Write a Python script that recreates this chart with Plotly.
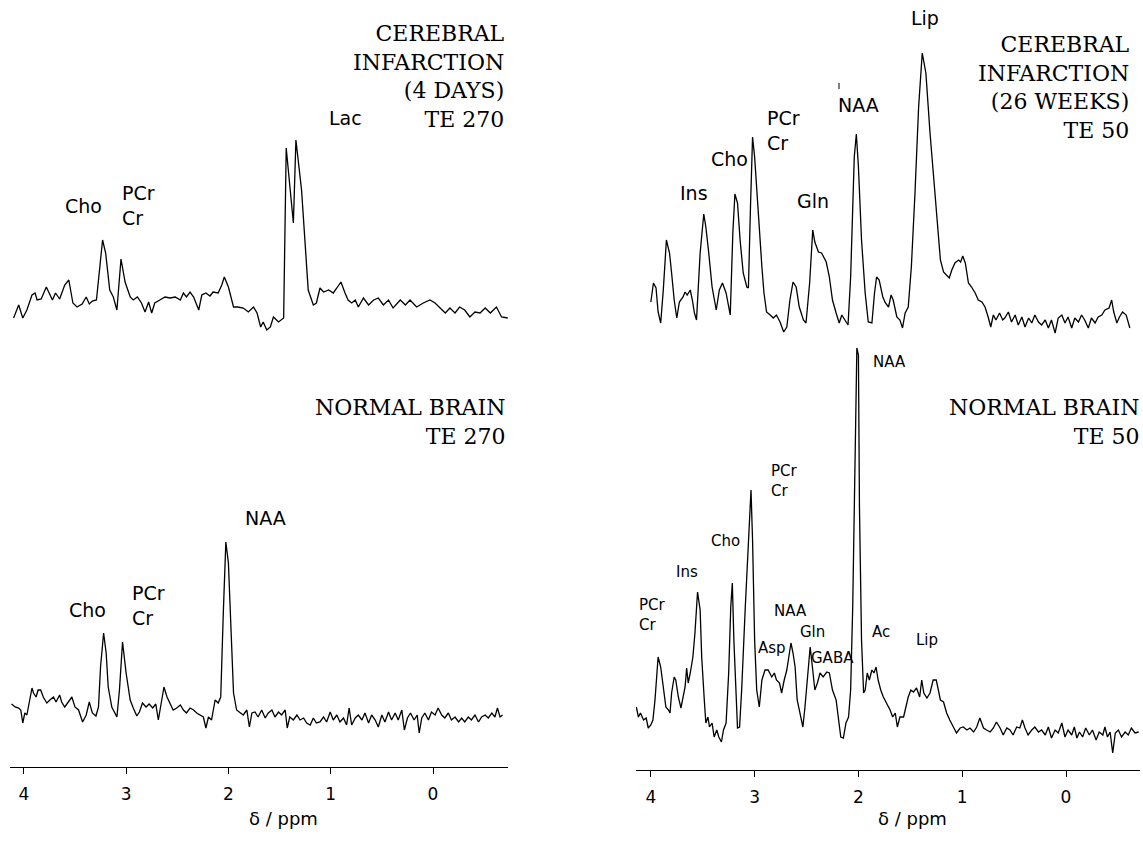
import plotly.graph_objects as go

# ---------------- spectra (chemical shift in ppm, intensity in arbitrary units) ----------------

# Cerebral infarction, 4 days, TE 270
ppm_inf4d = [4.10, 4.05, 4.01, 3.97, 3.92, 3.89, 3.87, 3.83, 3.78, 3.74, 3.72, 3.69, 3.65, 3.60, 3.56,
             3.52, 3.48, 3.43, 3.39, 3.36, 3.33, 3.29, 3.255, 3.23, 3.20, 3.16, 3.125, 3.09, 3.05, 3.01,
             2.96, 2.93, 2.89, 2.85, 2.815, 2.78, 2.75, 2.72, 2.67, 2.62, 2.57, 2.52, 2.47, 2.44, 2.41,
             2.375, 2.34, 2.29, 2.26, 2.22, 2.18, 2.15, 2.10, 2.065, 2.04, 2.00, 1.95, 1.91, 1.855, 1.805,
             1.755, 1.72, 1.685, 1.66, 1.625, 1.59, 1.56, 1.51, 1.46, 1.435, 1.365, 1.34, 1.285, 1.25, 1.22,
             1.17, 1.14, 1.105, 1.07, 1.02, 0.975, 0.94, 0.90, 0.86, 0.83, 0.795, 0.76, 0.73, 0.68, 0.63,
             0.58, 0.535, 0.485, 0.435, 0.39, 0.32, 0.27, 0.225, 0.16, 0.095, 0.03, -0.02, -0.07, -0.12,
             -0.165, -0.215, -0.26, -0.31, -0.36, -0.41, -0.46, -0.51, -0.56, -0.62, -0.67, -0.73]
int_inf4d = [-18, -5, -18, -10, 5, 7, 0, 1, 13, 5, 0, 7, 1, 15, 20,
             -3, -7, -4, 3, -4, -1, 0, 33, 60, 47, 10, 3, -10, 41, 18,
             3, 0, 3, -3, -12, -2, -13, -3, 0, 3, 2, 3, 0, 7, 3,
             8, 3, -10, 5, 7, 4, 8, 7, 15, 23, 13, -7, -7, -8, -12,
             -7, -13, -27, -22, -30, -27, -17, -22, -18, 152, 77, 160, 110, 53, 10,
             -5, -3, 12, 8, 10, 7, 12, 18, 7, 0, -3, 0, -7, 2, -5,
             0, 2, -5, 0, -8, 0, -5, 0, -7, -3, 0, -3, -8, -13,
             -8, -13, -7, -10, -17, -12, -13, -8, -13, -7, -17, -18]

# Cerebral infarction, 26 weeks, TE 50
ppm_inf26w = [4.00, 3.975, 3.95, 3.93, 3.905, 3.88, 3.85, 3.82, 3.80, 3.775,
              3.75, 3.725, 3.69, 3.67, 3.65, 3.62, 3.60, 3.58, 3.56, 3.525,
              3.49, 3.47, 3.445, 3.41, 3.37, 3.34, 3.31, 3.275, 3.235, 3.21,
              3.19, 3.165, 3.14, 3.11, 3.075, 3.06, 3.04, 3.02, 3.00, 2.965,
              2.93, 2.91, 2.885, 2.85, 2.82, 2.79, 2.755, 2.72, 2.69, 2.66,
              2.63, 2.60, 2.57, 2.53, 2.505, 2.47, 2.44, 2.42, 2.385, 2.355,
              2.31, 2.28, 2.25, 2.215, 2.185, 2.16, 2.13, 2.10, 2.075, 2.04,
              2.02, 2.00, 1.97, 1.935, 1.905, 1.87, 1.845, 1.825, 1.80, 1.765,
              1.74, 1.71, 1.685, 1.665, 1.63, 1.60, 1.575, 1.55, 1.52, 1.49,
              1.455, 1.42, 1.385, 1.35, 1.31, 1.27, 1.24, 1.21, 1.18, 1.15,
              1.125, 1.10, 1.07, 1.035, 1.015, 0.995, 0.97, 0.94, 0.91, 0.875,
              0.845, 0.81, 0.78, 0.75, 0.725, 0.70, 0.675, 0.64, 0.61, 0.59,
              0.555, 0.525, 0.49, 0.46, 0.425, 0.395, 0.36, 0.33, 0.30, 0.265,
              0.235, 0.20, 0.17, 0.14, 0.105, 0.075, 0.04, 0.01, -0.02, -0.055,
              -0.085, -0.12, -0.15, -0.18, -0.215, -0.245, -0.28, -0.31, -0.345, -0.375,
              -0.415, -0.44, -0.46, -0.49, -0.515, -0.545, -0.58, -0.615]
int_inf26w = [18, 37, 32, 8, -3, 30, 80, 67, 47, 20,
              2, 18, 23, 28, 25, 30, 20, 7, 0, 67,
              106, 93, 70, 33, 10, 30, 37, 27, 5, 87,
              126, 117, 80, 47, 33, 32, 113, 183, 163, 103,
              53, 27, 8, 5, 2, 5, -2, -12, -7, 20,
              38, 33, 13, 0, -3, 37, 90, 78, 68, 67,
              58, 43, 20, 7, -3, 5, 0, -5, 43, 163,
              186, 153, 80, 27, -2, -3, 27, 43, 40, 23,
              17, 13, 25, 20, 3, 0, -8, 7, 13, 53,
              127, 213, 267, 247, 187, 133, 97, 60, 48, 45,
              42, 50, 57, 60, 58, 64, 57, 37, 33, 27,
              20, 18, 13, 3, -7, 5, 0, 7, 0, 2,
              8, -2, 5, -5, 3, -7, 2, -3, 5, -2,
              -5, 0, -8, 0, -13, 2, 5, -3, 3, -8,
              2, -2, 5, 0, -8, 2, -3, 3, 5, 10,
              12, 20, 8, -3, 3, 8, 5, -8]

# Normal brain, TE 270
ppm_norm270 = [4.12, 4.085, 4.05, 4.03, 4.01, 3.99, 3.97, 3.945, 3.92, 3.905,
               3.88, 3.86, 3.835, 3.81, 3.775, 3.745, 3.71, 3.685, 3.65, 3.63,
               3.60, 3.565, 3.53, 3.50, 3.465, 3.425, 3.39, 3.36, 3.33, 3.295,
               3.27, 3.25, 3.22, 3.195, 3.175, 3.14, 3.09, 3.065, 3.035, 3.00,
               2.96, 2.93, 2.895, 2.87, 2.84, 2.805, 2.775, 2.74, 2.71, 2.685,
               2.65, 2.63, 2.60, 2.57, 2.54, 2.505, 2.47, 2.44, 2.41, 2.375,
               2.34, 2.31, 2.28, 2.245, 2.22, 2.195, 2.165, 2.13, 2.10, 2.075,
               2.05, 2.025, 2.00, 1.975, 1.95, 1.92, 1.885, 1.855, 1.82, 1.795,
               1.77, 1.74, 1.71, 1.675, 1.64, 1.61, 1.575, 1.545, 1.51, 1.48,
               1.445, 1.425, 1.40, 1.365, 1.33, 1.30, 1.265, 1.235, 1.20, 1.17,
               1.14, 1.105, 1.07, 1.04, 1.005, 0.975, 0.94, 0.91, 0.875, 0.845,
               0.82, 0.795, 0.76, 0.73, 0.695, 0.665, 0.63, 0.60, 0.565, 0.535,
               0.50, 0.47, 0.435, 0.405, 0.37, 0.34, 0.305, 0.28, 0.25, 0.22,
               0.185, 0.155, 0.135, 0.11, 0.08, 0.045, 0.015, -0.02, -0.05, -0.085,
               -0.115, -0.15, -0.18, -0.215, -0.25, -0.28, -0.31, -0.345, -0.375, -0.41,
               -0.445, -0.475, -0.51, -0.54, -0.575, -0.605, -0.63, -0.655, -0.68]
int_norm270 = [16, 13, 12, 10, -3, 7, 5, 20, 32, 27,
               23, 30, 30, 23, 17, 20, 23, 18, 25, 18,
               13, 18, 23, 13, 10, -2, 5, 18, 7, 4,
               13, 53, 87, 67, 33, 13, 3, 30, 78, 47,
               20, 12, 4, 8, 17, 13, 16, 12, 16, 0,
               23, 33, 23, 17, 10, 12, 15, 10, 7, 12,
               10, 7, 5, 3, -8, 3, 0, 20, 17, 23,
               107, 178, 157, 87, 27, 10, 7, 5, 10, -7,
               7, 8, 3, 10, 2, 7, 10, 3, 8, 5,
               10, -8, 3, 0, 5, 0, 2, -3, -5, 2,
               -3, -2, 3, -2, 8, 0, 5, -2, 2, -5,
               12, -5, 2, 5, 0, 7, -3, 5, 0, -7,
               5, -2, 8, 0, 7, 0, 10, -10, 2, 7,
               0, 5, -13, 2, 7, 0, 8, 5, 12, 5,
               2, 7, 0, 3, -2, 2, -2, 3, 0, 5,
               -2, 3, 5, 2, 7, 3, 12, 3, 5]

# Normal brain, TE 50
ppm_norm50 = [4.14, 4.12, 4.10, 4.07, 4.045, 4.025, 4.00, 3.98, 3.96, 3.945,
              3.93, 3.905, 3.88, 3.855, 3.83, 3.815, 3.80, 3.775, 3.76, 3.735,
              3.71, 3.69, 3.67, 3.655, 3.64, 3.62, 3.595, 3.575, 3.55, 3.525,
              3.51, 3.485, 3.47, 3.45, 3.435, 3.41, 3.39, 3.365, 3.345, 3.32,
              3.30, 3.275, 3.25, 3.23, 3.215, 3.20, 3.18, 3.165, 3.145, 3.125,
              3.09, 3.06, 3.035, 3.02, 3.00, 2.98, 2.955, 2.93, 2.90, 2.87,
              2.835, 2.81, 2.79, 2.76, 2.74, 2.715, 2.69, 2.675, 2.65, 2.63,
              2.61, 2.59, 2.56, 2.535, 2.515, 2.49, 2.465, 2.44, 2.42, 2.395,
              2.37, 2.34, 2.305, 2.28, 2.25, 2.215, 2.19, 2.17, 2.145, 2.12,
              2.095, 2.075, 2.055, 2.03, 2.015, 2.00, 1.99, 1.97, 1.95, 1.935,
              1.915, 1.895, 1.87, 1.85, 1.83, 1.81, 1.785, 1.76, 1.73, 1.695,
              1.67, 1.645, 1.625, 1.60, 1.565, 1.54, 1.52, 1.495, 1.47, 1.44,
              1.41, 1.39, 1.37, 1.34, 1.31, 1.28, 1.25, 1.23, 1.21, 1.18,
              1.15, 1.12, 1.085, 1.055, 1.02, 0.99, 0.955, 0.925, 0.89, 0.86,
              0.83, 0.795, 0.765, 0.73, 0.70, 0.67, 0.635, 0.605, 0.57, 0.54,
              0.51, 0.475, 0.445, 0.42, 0.395, 0.365, 0.33, 0.30, 0.265, 0.235,
              0.20, 0.17, 0.14, 0.105, 0.075, 0.04, 0.01, -0.02, -0.055, -0.08,
              -0.105, -0.13, -0.16, -0.19, -0.225, -0.255, -0.29, -0.32, -0.355, -0.375,
              -0.40, -0.425, -0.45, -0.475, -0.505, -0.535, -0.57, -0.60, -0.63, -0.665,
              -0.70]
int_norm50 = [33, 23, 27, 20, 22, 12, 15, 20, 40, 67,
              83, 73, 50, 33, 30, 27, 47, 63, 60, 43,
              32, 43, 53, 72, 57, 67, 83, 107, 148, 130,
              83, 40, 17, 23, 13, 17, 3, 10, 3, -2,
              10, 17, 67, 133, 157, 100, 40, 12, 13, 50,
              133, 200, 250, 200, 100, 50, 33, 60, 70, 70,
              63, 67, 60, 57, 47, 60, 70, 80, 97, 87,
              73, 40, 23, 13, 33, 67, 93, 70, 50, 57,
              67, 63, 68, 67, 50, 40, 20, 3, 2, 17,
              23, 50, 133, 300, 392, 385, 233, 100, 47, 50,
              67, 60, 70, 67, 73, 60, 50, 43, 37, 30,
              23, 27, 13, 23, 23, 33, 43, 50, 48, 52,
              43, 60, 47, 42, 47, 60, 60, 50, 40, 38,
              27, 20, 13, 7, 12, 13, 10, 12, 8, 13,
              22, 12, 10, 8, 12, 18, 12, 5, 12, 10,
              5, 13, 12, 20, 12, 5, 10, 13, 8, 10,
              5, 13, 2, 10, 7, 17, 3, 10, 5, 13,
              2, 8, 3, 12, 5, 10, 0, 8, 5, 13,
              3, 8, -13, 7, 10, 3, 8, 5, 12, 7,
              8]

for a, b in [(ppm_inf4d, int_inf4d), (ppm_inf26w, int_inf26w),
             (ppm_norm270, int_norm270), (ppm_norm50, int_norm50)]:
    assert len(a) == len(b), (len(a), len(b))

panel_titles = ["CEREBRAL<br>INFARCTION<br>(4 DAYS)<br>TE 270",
                "CEREBRAL<br>INFARCTION<br>(26 WEEKS)<br>TE 50",
                "NORMAL BRAIN<br>TE 270",
                "NORMAL BRAIN<br>TE 50"]
tick_values = [4, 3, 2, 1, 0]
tick_text = ["4", "3", "2", "1", "0"]
axis_title = "δ / ppm"

# ---------------- figure ----------------
W, H = 1143, 842
SANS = "DejaVu Sans"
SERIF = "DejaVu Serif"
line = dict(color="black", width=1.3)

fig = go.Figure()
fig.add_trace(go.Scatter(x=ppm_inf4d, y=int_inf4d, mode="lines", line=line, xaxis="x", yaxis="y"))
fig.add_trace(go.Scatter(x=ppm_inf26w, y=int_inf26w, mode="lines", line=line, xaxis="x2", yaxis="y2"))
fig.add_trace(go.Scatter(x=ppm_norm270, y=int_norm270, mode="lines", line=line, xaxis="x3", yaxis="y3"))
fig.add_trace(go.Scatter(x=ppm_norm50, y=int_norm50, mode="lines", line=line, xaxis="x4", yaxis="y4"))

left_dom = [10 / W, 508 / W]
right_dom = [636 / W, 1140 / W]
left_rng = [4.135, -0.733]
right_rng = [4.143, -0.713]

hidden = dict(visible=False)
shown_x = dict(showline=True, linecolor="black", linewidth=1.3, ticks="outside", ticklen=6,
               tickwidth=1.2, tickcolor="black", tickvals=tick_values, ticktext=tick_text,
               tickfont=dict(family=SANS, size=17, color="black"), ticklabelstandoff=5,
               showgrid=False, zeroline=False)

# each panel: 1 intensity unit = 1 px vertically
fig.update_layout(
    width=W, height=H, margin=dict(l=0, r=0, t=0, b=0),
    paper_bgcolor="white", plot_bgcolor="rgba(0,0,0,0)", showlegend=False,
    xaxis=dict(domain=left_dom, range=left_rng, **hidden),
    yaxis=dict(domain=[1 - 340 / H, 1 - 90 / H], range=[-40, 210], **hidden),
    xaxis2=dict(domain=right_dom, range=right_rng, **hidden),
    yaxis2=dict(domain=[1 - 340 / H, 1 - 5 / H], range=[-20, 315], **hidden),
    xaxis3=dict(domain=left_dom, range=left_rng, anchor="y3", **shown_x),
    yaxis3=dict(domain=[1 - 767 / H, 1 - 490 / H], range=[-47, 230], **hidden),
    xaxis4=dict(domain=right_dom, range=right_rng, anchor="y4", **shown_x),
    yaxis4=dict(domain=[1 - 770 / H, 1 - 340 / H], range=[-30, 400], **hidden),
)

ann = []


def label(text, x, y, ax, size=19, anchor="center"):
    ann.append(dict(text=text, x=x, y=y, xref=ax[0], yref=ax[1], showarrow=False,
                    xanchor=anchor, yanchor="middle", align="left",
                    font=dict(family=SANS, size=size, color="black")))


# peak assignments
label("Cho", 3.42, 94, ("x", "y"))
label("PCr<br>Cr", 3.06, 95, ("x", "y"), anchor="left")
label("Lac", 0.86, 182, ("x", "y"))

label("Lip", 1.358, 302, ("x2", "y2"))
label("NAA", 2.004, 215, ("x2", "y2"))
label("PCr<br>Cr", 2.90, 190, ("x2", "y2"), anchor="left")
label("Cho", 3.247, 161, ("x2", "y2"))
label("Ins", 3.584, 127, ("x2", "y2"))
label("Gln", 2.437, 119, ("x2", "y2"))

label("NAA", 1.642, 202, ("x3", "y3"))
label("Cho", 3.382, 110, ("x3", "y3"))
label("PCr<br>Cr", 2.962, 115, ("x3", "y3"), anchor="left")

label("NAA", 1.696, 378, ("x4", "y4"), size=15)
label("PCr<br>Cr", 2.861, 259, ("x4", "y4"), size=15, anchor="left")
label("Cho", 3.276, 199, ("x4", "y4"), size=15)
label("Ins", 3.651, 168, ("x4", "y4"), size=15)
label("PCr<br>Cr", 4.13, 125, ("x4", "y4"), size=15, anchor="left")
label("NAA", 2.659, 129, ("x4", "y4"), size=15)
label("Asp", 2.832, 92, ("x4", "y4"), size=15)
label("Gln", 2.447, 108, ("x4", "y4"), size=15)
label("GABA", 2.245, 82, ("x4", "y4"), size=15)
label("Ac", 1.782, 108, ("x4", "y4"), size=15)
label("Lip", 1.339, 100, ("x4", "y4"), size=15)

# panel captions
for text, px, py in zip(panel_titles, [507, 1132, 507, 1141], [77, 87, 422, 422]):
    ann.append(dict(text=text, x=px / W, y=1 - py / H, xref="paper", yref="paper", showarrow=False,
                    xanchor="right", yanchor="middle", align="right",
                    font=dict(family=SERIF, size=22, color="black")))

# axis titles
for px in [283, 912]:
    ann.append(dict(text=axis_title, x=px / W, y=1 - 818 / H, xref="paper", yref="paper",
                    showarrow=False, xanchor="center", yanchor="middle",
                    font=dict(family=SANS, size=18, color="black")))

fig.update_layout(annotations=ann)

# small mark above the NAA assignment of the 26-week spectrum
fig.add_shape(type="line", xref="x2", yref="y2", x0=2.187, x1=2.187, y0=231, y1=237,
              line=dict(color="black", width=1))

fig.write_html("out.html")
